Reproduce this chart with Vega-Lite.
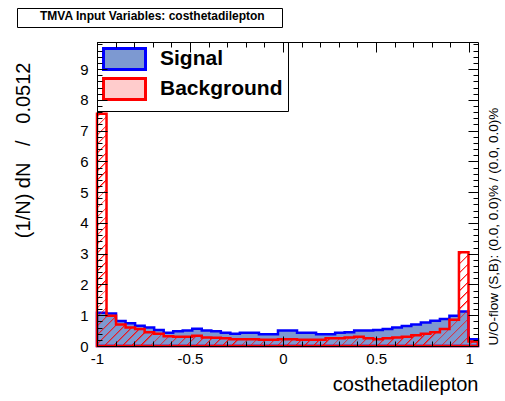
{
"$schema": "https://vega.github.io/schema/vega-lite/v6.json",
"width": 381, "height": 304,
"autosize": "none",
"padding": {"left": 97, "top": 42, "right": 27, "bottom": 55},
"background": "white",
"config": {"view": {"stroke": null}, "font": "Liberation Sans"},
"data": {"values": [
{"x": -1, "s": 1.08, "b": 7.55},
{"x": -0.9488, "s": 1.06, "b": 0.98},
{"x": -0.8976, "s": 0.81, "b": 0.7},
{"x": -0.8464, "s": 0.74, "b": 0.6},
{"x": -0.7952, "s": 0.66, "b": 0.55},
{"x": -0.744, "s": 0.6, "b": 0.45},
{"x": -0.6928, "s": 0.52, "b": 0.4},
{"x": -0.6416, "s": 0.43, "b": 0.32},
{"x": -0.5904, "s": 0.48, "b": 0.3},
{"x": -0.5392, "s": 0.5, "b": 0.3},
{"x": -0.488, "s": 0.56, "b": 0.33},
{"x": -0.4368, "s": 0.5, "b": 0.28},
{"x": -0.3856, "s": 0.48, "b": 0.27},
{"x": -0.3344, "s": 0.43, "b": 0.25},
{"x": -0.2832, "s": 0.4, "b": 0.22},
{"x": -0.232, "s": 0.43, "b": 0.22},
{"x": -0.1808, "s": 0.43, "b": 0.22},
{"x": -0.1296, "s": 0.38, "b": 0.2},
{"x": -0.0784, "s": 0.38, "b": 0.2},
{"x": -0.0272, "s": 0.5, "b": 0.22},
{"x": 0.024, "s": 0.5, "b": 0.22},
{"x": 0.0752, "s": 0.43, "b": 0.2},
{"x": 0.1264, "s": 0.43, "b": 0.2},
{"x": 0.1776, "s": 0.38, "b": 0.2},
{"x": 0.2288, "s": 0.38, "b": 0.25},
{"x": 0.28, "s": 0.43, "b": 0.25},
{"x": 0.3312, "s": 0.45, "b": 0.28},
{"x": 0.3824, "s": 0.5, "b": 0.3},
{"x": 0.4336, "s": 0.5, "b": 0.25},
{"x": 0.4848, "s": 0.52, "b": 0.22},
{"x": 0.536, "s": 0.55, "b": 0.25},
{"x": 0.5872, "s": 0.6, "b": 0.28},
{"x": 0.6384, "s": 0.65, "b": 0.3},
{"x": 0.6896, "s": 0.7, "b": 0.35},
{"x": 0.7408, "s": 0.76, "b": 0.4},
{"x": 0.792, "s": 0.82, "b": 0.45},
{"x": 0.8432, "s": 0.88, "b": 0.55},
{"x": 0.8944, "s": 0.98, "b": 0.85},
{"x": 0.9456, "s": 1.12, "b": 3.05},
{"x": 0.9968, "s": 0.22, "b": 0.15},
{"x": 1.048, "s": 0.22, "b": 0.15}
]},
"layer": [
{
"mark": {"type": "area", "interpolate": "step-after", "strokeWidth": 2.5, "fillOpacity": 1},
"encoding": {
"x": {"field": "x", "type": "quantitative", "scale": {"domain": [-1, 1.048], "nice": false, "zero": false},
 "axis": {"orient": "bottom", "zindex": 1,
  "values": [-1,-0.9,-0.8,-0.7,-0.6,-0.5,-0.4,-0.3,-0.2,-0.1,0,0.1,0.2,0.3,0.4,0.5,0.6,0.7,0.8,0.9,1],
  "tickSize": {"condition": {"test": "abs(datum.value*2 - round(datum.value*2)) < 0.001", "value": -10}, "value": -5},
  "tickColor": "black", "tickWidth": 1, "domain": true, "domainColor": "black", "domainWidth": 1, "grid": false,
  "labelExpr": "abs(datum.value*2 - round(datum.value*2)) < 0.001 ? '' + datum.value : ''",
  "labelFont": "Liberation Sans", "labelFontSize": 15, "labelColor": "black", "labelPadding": 15,
  "labelFlush": false, "labelOverlap": false,
  "title": "costhetadilepton", "titleFont": "Liberation Sans", "titleFontSize": 20, "titleFontWeight": "normal", "titleColor": "black",
  "titleAnchor": "end", "titleAlign": "right", "titleX": 381, "titleY": 44, "titleBaseline": "alphabetic"}},
"y": {"field": "s", "type": "quantitative", "scale": {"domain": [0, 9.88], "nice": false, "zero": true},
 "axis": {"orient": "left", "zindex": 1,
  "values": [0,0.2,0.4,0.6,0.8,1,1.2,1.4,1.6,1.8,2,2.2,2.4,2.6,2.8,3,3.2,3.4,3.6,3.8,4,4.2,4.4,4.6,4.8,5,5.2,5.4,5.6,5.8,6,6.2,6.4,6.6,6.8,7,7.2,7.4,7.6,7.8,8,8.2,8.4,8.6,8.8,9,9.2,9.4,9.6,9.8],
  "tickSize": {"condition": {"test": "abs(datum.value - round(datum.value)) < 0.001", "value": -10}, "value": -5},
  "tickColor": "black", "tickWidth": 1, "domain": true, "domainColor": "black", "domainWidth": 1, "grid": false,
  "labelExpr": "abs(datum.value - round(datum.value)) < 0.001 ? '' + round(datum.value) : ''",
  "labelFont": "Liberation Sans", "labelFontSize": 15, "labelColor": "black", "labelPadding": 19,
  "labelFlush": false, "labelOverlap": false,
  "title": "(1/N) dN\u00a0\u00a0 /\u00a0\u00a0 0.0512", "titleFont": "Liberation Sans", "titleFontSize": 20, "titleFontWeight": "normal", "titleColor": "black",
  "titleAngle": -90, "titleAlign": "right", "titleBaseline": "middle", "titleX": -74, "titleY": 20}},
"fill": {"datum": "Signal", "type": "nominal",
 "scale": {"domain": ["Signal", "Background"], "range": ["#7d99d1", "#ffcccc"]},
 "legend": {"title": null, "orient": "top-left", "offset": 0,
  "fillColor": "white", "strokeColor": "black", "padding": 5,
  "symbolType": "M-1,-1H3V1H-1Z", "symbolSize": 441, "symbolStrokeWidth": 3, "symbolOpacity": 1,
  "labelFont": "Liberation Sans", "labelFontWeight": "bold", "labelFontSize": 21, "labelColor": "black",
  "labelOffset": 34, "rowPadding": -4}},
"stroke": {"datum": "Signal", "type": "nominal",
 "scale": {"domain": ["Signal", "Background"], "range": ["#0000ff", "#ff0000"]},
 "legend": {"title": null, "orient": "top-left", "offset": 0,
  "fillColor": "white", "strokeColor": "black", "padding": 5,
  "symbolType": "M-1,-1H3V1H-1Z", "symbolSize": 441, "symbolStrokeWidth": 3, "symbolOpacity": 1,
  "labelFont": "Liberation Sans", "labelFontWeight": "bold", "labelFontSize": 21, "labelColor": "black",
  "labelOffset": 34, "rowPadding": -4}}
}
},
{
"mark": {"type": "area", "interpolate": "step-after", "strokeWidth": 2.5,
 "fill": {"gradient": "linear", "x1": 0, "y1": 0, "x2": 1.2, "y2": 0.732, "stops": [
{"offset":0.0040,"color":"rgba(255,0,0,0)"},{"offset":0.0040,"color":"#ff0000"},{"offset":0.0075,"color":"rgba(255,0,0,0)"},
{"offset":0.0185,"color":"rgba(255,0,0,0)"},{"offset":0.0185,"color":"#ff0000"},{"offset":0.0220,"color":"rgba(255,0,0,0)"},
{"offset":0.0330,"color":"rgba(255,0,0,0)"},{"offset":0.0330,"color":"#ff0000"},{"offset":0.0365,"color":"rgba(255,0,0,0)"},
{"offset":0.0475,"color":"rgba(255,0,0,0)"},{"offset":0.0475,"color":"#ff0000"},{"offset":0.0510,"color":"rgba(255,0,0,0)"},
{"offset":0.0620,"color":"rgba(255,0,0,0)"},{"offset":0.0620,"color":"#ff0000"},{"offset":0.0655,"color":"rgba(255,0,0,0)"},
{"offset":0.0765,"color":"rgba(255,0,0,0)"},{"offset":0.0765,"color":"#ff0000"},{"offset":0.0800,"color":"rgba(255,0,0,0)"},
{"offset":0.0910,"color":"rgba(255,0,0,0)"},{"offset":0.0910,"color":"#ff0000"},{"offset":0.0945,"color":"rgba(255,0,0,0)"},
{"offset":0.1055,"color":"rgba(255,0,0,0)"},{"offset":0.1055,"color":"#ff0000"},{"offset":0.1090,"color":"rgba(255,0,0,0)"},
{"offset":0.1200,"color":"rgba(255,0,0,0)"},{"offset":0.1200,"color":"#ff0000"},{"offset":0.1235,"color":"rgba(255,0,0,0)"},
{"offset":0.1345,"color":"rgba(255,0,0,0)"},{"offset":0.1345,"color":"#ff0000"},{"offset":0.1380,"color":"rgba(255,0,0,0)"},
{"offset":0.1490,"color":"rgba(255,0,0,0)"},{"offset":0.1490,"color":"#ff0000"},{"offset":0.1525,"color":"rgba(255,0,0,0)"},
{"offset":0.1635,"color":"rgba(255,0,0,0)"},{"offset":0.1635,"color":"#ff0000"},{"offset":0.1670,"color":"rgba(255,0,0,0)"},
{"offset":0.1780,"color":"rgba(255,0,0,0)"},{"offset":0.1780,"color":"#ff0000"},{"offset":0.1815,"color":"rgba(255,0,0,0)"},
{"offset":0.1925,"color":"rgba(255,0,0,0)"},{"offset":0.1925,"color":"#ff0000"},{"offset":0.1960,"color":"rgba(255,0,0,0)"},
{"offset":0.2070,"color":"rgba(255,0,0,0)"},{"offset":0.2070,"color":"#ff0000"},{"offset":0.2105,"color":"rgba(255,0,0,0)"},
{"offset":0.2215,"color":"rgba(255,0,0,0)"},{"offset":0.2215,"color":"#ff0000"},{"offset":0.2250,"color":"rgba(255,0,0,0)"},
{"offset":0.2360,"color":"rgba(255,0,0,0)"},{"offset":0.2360,"color":"#ff0000"},{"offset":0.2395,"color":"rgba(255,0,0,0)"},
{"offset":0.2505,"color":"rgba(255,0,0,0)"},{"offset":0.2505,"color":"#ff0000"},{"offset":0.2540,"color":"rgba(255,0,0,0)"},
{"offset":0.2650,"color":"rgba(255,0,0,0)"},{"offset":0.2650,"color":"#ff0000"},{"offset":0.2685,"color":"rgba(255,0,0,0)"},
{"offset":0.2795,"color":"rgba(255,0,0,0)"},{"offset":0.2795,"color":"#ff0000"},{"offset":0.2830,"color":"rgba(255,0,0,0)"},
{"offset":0.2940,"color":"rgba(255,0,0,0)"},{"offset":0.2940,"color":"#ff0000"},{"offset":0.2975,"color":"rgba(255,0,0,0)"},
{"offset":0.3085,"color":"rgba(255,0,0,0)"},{"offset":0.3085,"color":"#ff0000"},{"offset":0.3120,"color":"rgba(255,0,0,0)"},
{"offset":0.3230,"color":"rgba(255,0,0,0)"},{"offset":0.3230,"color":"#ff0000"},{"offset":0.3265,"color":"rgba(255,0,0,0)"},
{"offset":0.3375,"color":"rgba(255,0,0,0)"},{"offset":0.3375,"color":"#ff0000"},{"offset":0.3410,"color":"rgba(255,0,0,0)"},
{"offset":0.3520,"color":"rgba(255,0,0,0)"},{"offset":0.3520,"color":"#ff0000"},{"offset":0.3555,"color":"rgba(255,0,0,0)"},
{"offset":0.3665,"color":"rgba(255,0,0,0)"},{"offset":0.3665,"color":"#ff0000"},{"offset":0.3700,"color":"rgba(255,0,0,0)"},
{"offset":0.3810,"color":"rgba(255,0,0,0)"},{"offset":0.3810,"color":"#ff0000"},{"offset":0.3845,"color":"rgba(255,0,0,0)"},
{"offset":0.3955,"color":"rgba(255,0,0,0)"},{"offset":0.3955,"color":"#ff0000"},{"offset":0.3990,"color":"rgba(255,0,0,0)"},
{"offset":0.4100,"color":"rgba(255,0,0,0)"},{"offset":0.4100,"color":"#ff0000"},{"offset":0.4135,"color":"rgba(255,0,0,0)"},
{"offset":0.4245,"color":"rgba(255,0,0,0)"},{"offset":0.4245,"color":"#ff0000"},{"offset":0.4280,"color":"rgba(255,0,0,0)"},
{"offset":0.4390,"color":"rgba(255,0,0,0)"},{"offset":0.4390,"color":"#ff0000"},{"offset":0.4425,"color":"rgba(255,0,0,0)"},
{"offset":0.4535,"color":"rgba(255,0,0,0)"},{"offset":0.4535,"color":"#ff0000"},{"offset":0.4570,"color":"rgba(255,0,0,0)"},
{"offset":0.4680,"color":"rgba(255,0,0,0)"},{"offset":0.4680,"color":"#ff0000"},{"offset":0.4715,"color":"rgba(255,0,0,0)"},
{"offset":0.4825,"color":"rgba(255,0,0,0)"},{"offset":0.4825,"color":"#ff0000"},{"offset":0.4860,"color":"rgba(255,0,0,0)"},
{"offset":0.4970,"color":"rgba(255,0,0,0)"},{"offset":0.4970,"color":"#ff0000"},{"offset":0.5005,"color":"rgba(255,0,0,0)"},
{"offset":0.5115,"color":"rgba(255,0,0,0)"},{"offset":0.5115,"color":"#ff0000"},{"offset":0.5150,"color":"rgba(255,0,0,0)"},
{"offset":0.5260,"color":"rgba(255,0,0,0)"},{"offset":0.5260,"color":"#ff0000"},{"offset":0.5295,"color":"rgba(255,0,0,0)"},
{"offset":0.5405,"color":"rgba(255,0,0,0)"},{"offset":0.5405,"color":"#ff0000"},{"offset":0.5440,"color":"rgba(255,0,0,0)"},
{"offset":0.5550,"color":"rgba(255,0,0,0)"},{"offset":0.5550,"color":"#ff0000"},{"offset":0.5585,"color":"rgba(255,0,0,0)"},
{"offset":0.5695,"color":"rgba(255,0,0,0)"},{"offset":0.5695,"color":"#ff0000"},{"offset":0.5730,"color":"rgba(255,0,0,0)"},
{"offset":0.5840,"color":"rgba(255,0,0,0)"},{"offset":0.5840,"color":"#ff0000"},{"offset":0.5875,"color":"rgba(255,0,0,0)"},
{"offset":0.5985,"color":"rgba(255,0,0,0)"},{"offset":0.5985,"color":"#ff0000"},{"offset":0.6020,"color":"rgba(255,0,0,0)"},
{"offset":0.6130,"color":"rgba(255,0,0,0)"},{"offset":0.6130,"color":"#ff0000"},{"offset":0.6165,"color":"rgba(255,0,0,0)"},
{"offset":0.6275,"color":"rgba(255,0,0,0)"},{"offset":0.6275,"color":"#ff0000"},{"offset":0.6310,"color":"rgba(255,0,0,0)"},
{"offset":0.6420,"color":"rgba(255,0,0,0)"},{"offset":0.6420,"color":"#ff0000"},{"offset":0.6455,"color":"rgba(255,0,0,0)"},
{"offset":0.6565,"color":"rgba(255,0,0,0)"},{"offset":0.6565,"color":"#ff0000"},{"offset":0.6600,"color":"rgba(255,0,0,0)"},
{"offset":0.6710,"color":"rgba(255,0,0,0)"},{"offset":0.6710,"color":"#ff0000"},{"offset":0.6745,"color":"rgba(255,0,0,0)"},
{"offset":0.6855,"color":"rgba(255,0,0,0)"},{"offset":0.6855,"color":"#ff0000"},{"offset":0.6890,"color":"rgba(255,0,0,0)"},
{"offset":0.7000,"color":"rgba(255,0,0,0)"},{"offset":0.7000,"color":"#ff0000"},{"offset":0.7035,"color":"rgba(255,0,0,0)"},
{"offset":0.7145,"color":"rgba(255,0,0,0)"},{"offset":0.7145,"color":"#ff0000"},{"offset":0.7180,"color":"rgba(255,0,0,0)"},
{"offset":0.7290,"color":"rgba(255,0,0,0)"},{"offset":0.7290,"color":"#ff0000"},{"offset":0.7325,"color":"rgba(255,0,0,0)"},
{"offset":0.7435,"color":"rgba(255,0,0,0)"},{"offset":0.7435,"color":"#ff0000"},{"offset":0.7470,"color":"rgba(255,0,0,0)"},
{"offset":0.7580,"color":"rgba(255,0,0,0)"},{"offset":0.7580,"color":"#ff0000"},{"offset":0.7615,"color":"rgba(255,0,0,0)"},
{"offset":0.7725,"color":"rgba(255,0,0,0)"},{"offset":0.7725,"color":"#ff0000"},{"offset":0.7760,"color":"rgba(255,0,0,0)"},
{"offset":0.7870,"color":"rgba(255,0,0,0)"},{"offset":0.7870,"color":"#ff0000"},{"offset":0.7905,"color":"rgba(255,0,0,0)"},
{"offset":0.8015,"color":"rgba(255,0,0,0)"},{"offset":0.8015,"color":"#ff0000"},{"offset":0.8050,"color":"rgba(255,0,0,0)"},
{"offset":0.8160,"color":"rgba(255,0,0,0)"},{"offset":0.8160,"color":"#ff0000"},{"offset":0.8195,"color":"rgba(255,0,0,0)"},
{"offset":0.8305,"color":"rgba(255,0,0,0)"},{"offset":0.8305,"color":"#ff0000"},{"offset":0.8340,"color":"rgba(255,0,0,0)"},
{"offset":0.8450,"color":"rgba(255,0,0,0)"},{"offset":0.8450,"color":"#ff0000"},{"offset":0.8485,"color":"rgba(255,0,0,0)"},
{"offset":0.8595,"color":"rgba(255,0,0,0)"},{"offset":0.8595,"color":"#ff0000"},{"offset":0.8630,"color":"rgba(255,0,0,0)"},
{"offset":0.8740,"color":"rgba(255,0,0,0)"},{"offset":0.8740,"color":"#ff0000"},{"offset":0.8775,"color":"rgba(255,0,0,0)"},
{"offset":0.8885,"color":"rgba(255,0,0,0)"},{"offset":0.8885,"color":"#ff0000"},{"offset":0.8920,"color":"rgba(255,0,0,0)"},
{"offset":0.9030,"color":"rgba(255,0,0,0)"},{"offset":0.9030,"color":"#ff0000"},{"offset":0.9065,"color":"rgba(255,0,0,0)"},
{"offset":0.9175,"color":"rgba(255,0,0,0)"},{"offset":0.9175,"color":"#ff0000"},{"offset":0.9210,"color":"rgba(255,0,0,0)"},
{"offset":0.9320,"color":"rgba(255,0,0,0)"},{"offset":0.9320,"color":"#ff0000"},{"offset":0.9355,"color":"rgba(255,0,0,0)"},
{"offset":0.9465,"color":"rgba(255,0,0,0)"},{"offset":0.9465,"color":"#ff0000"},{"offset":0.9500,"color":"rgba(255,0,0,0)"},
{"offset":0.9610,"color":"rgba(255,0,0,0)"},{"offset":0.9610,"color":"#ff0000"},{"offset":0.9645,"color":"rgba(255,0,0,0)"},
{"offset":0.9755,"color":"rgba(255,0,0,0)"},{"offset":0.9755,"color":"#ff0000"},{"offset":0.9790,"color":"rgba(255,0,0,0)"}
 ]}},
"encoding": {
"x": {"field": "x", "type": "quantitative", "scale": {"domain": [-1, 1.048], "nice": false, "zero": false},
 "axis": {"orient": "top", "zindex": 1,
  "values": [-1,-0.9,-0.8,-0.7,-0.6,-0.5,-0.4,-0.3,-0.2,-0.1,0,0.1,0.2,0.3,0.4,0.5,0.6,0.7,0.8,0.9,1],
  "tickSize": {"condition": {"test": "abs(datum.value*2 - round(datum.value*2)) < 0.001", "value": -10}, "value": -5},
  "tickColor": "black", "tickWidth": 1, "domain": true, "domainColor": "black", "domainWidth": 1, "grid": false,
  "labels": false, "title": null}},
"y": {"field": "b", "type": "quantitative", "scale": {"domain": [0, 9.88], "nice": false, "zero": true},
 "axis": {"orient": "right", "zindex": 1,
  "values": [0,0.2,0.4,0.6,0.8,1,1.2,1.4,1.6,1.8,2,2.2,2.4,2.6,2.8,3,3.2,3.4,3.6,3.8,4,4.2,4.4,4.6,4.8,5,5.2,5.4,5.6,5.8,6,6.2,6.4,6.6,6.8,7,7.2,7.4,7.6,7.8,8,8.2,8.4,8.6,8.8,9,9.2,9.4,9.6,9.8],
  "tickSize": {"condition": {"test": "abs(datum.value - round(datum.value)) < 0.001", "value": -10}, "value": -5},
  "tickColor": "black", "tickWidth": 1, "domain": true, "domainColor": "black", "domainWidth": 1, "grid": false,
  "labels": false,
  "title": "U/O-flow (S,B): (0.0, 0.0)% / (0.0, 0.0)%", "titleFont": "Liberation Sans", "titleFontSize": 13.5, "titleFontWeight": "normal", "titleColor": "black",
  "titleAngle": -90, "titleAlign": "left", "titleBaseline": "middle", "titleX": 15, "titleY": 303}},
"stroke": {"datum": "Background", "type": "nominal",
 "scale": {"domain": ["Signal", "Background"], "range": ["#0000ff", "#ff0000"]},
 "legend": {"title": null, "orient": "top-left", "offset": 0,
  "fillColor": "white", "strokeColor": "black", "padding": 5,
  "symbolType": "M-1,-1H3V1H-1Z", "symbolSize": 441, "symbolStrokeWidth": 3, "symbolOpacity": 1,
  "labelFont": "Liberation Sans", "labelFontWeight": "bold", "labelFontSize": 21, "labelColor": "black",
  "labelOffset": 34, "rowPadding": -4}},
"opacity": {"datum": "t", "type": "nominal",
 "scale": {"type": "point", "domain": ["t"], "range": [1, 1]},
 "legend": {"orient": "none", "legendX": -80, "legendY": -34,
  "title": "\u200b\u00a0\u00a0\u00a0\u00a0\u00a0\u00a0TMVA Input Variables: costhetadilepton\u00a0\u00a0\u00a0\u00a0\u200b",
  "titleFont": "Liberation Sans", "titleFontWeight": "bold", "titleFontSize": 12, "titleColor": "black",
  "titlePadding": 0, "titleLimit": 400,
  "symbolSize": 0, "symbolOpacity": 0, "symbolStrokeWidth": 0, "symbolType": "circle",
  "labelExpr": "''", "labelFontSize": 1, "labelOffset": 0, "rowPadding": 0,
  "strokeColor": "black", "fillColor": "white", "padding": 3}}
}
}
],
"resolve": {"axis": {"x": "independent", "y": "independent"}}
}
